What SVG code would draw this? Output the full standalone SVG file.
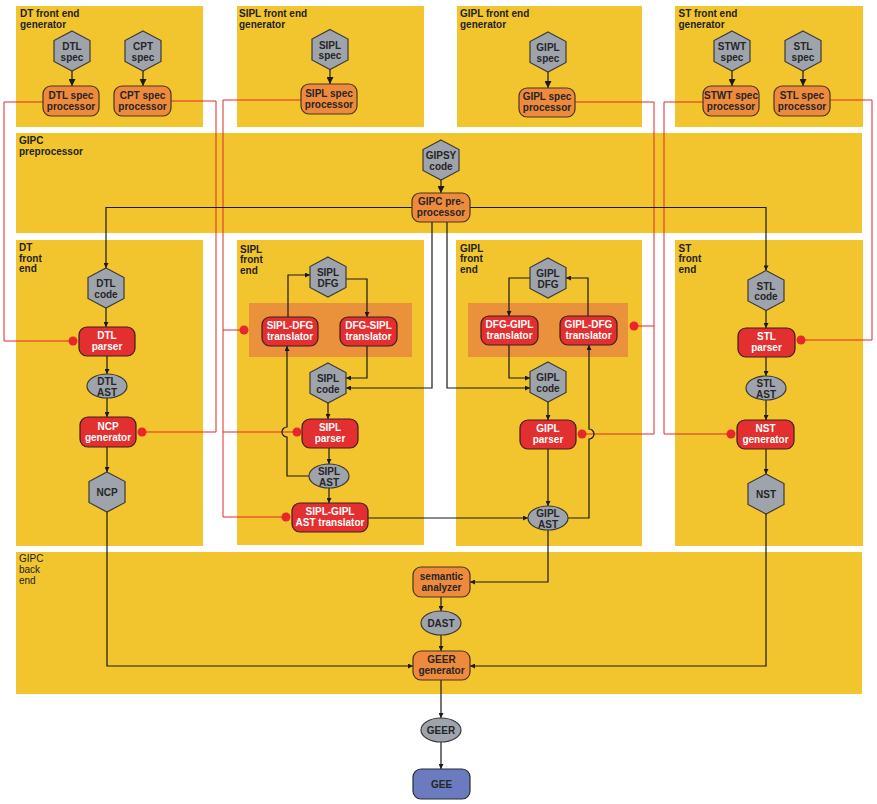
<svg xmlns="http://www.w3.org/2000/svg" width="877" height="804" viewBox="0 0 877 804">
<style>
.panel{fill:#F2C42D}
.grp{fill:#EA913B}
.lbl{font-family:"Liberation Sans",Arial,sans-serif;font-size:10px;font-weight:bold;fill:#231f20}
.lbln{font-family:"Liberation Sans",Arial,sans-serif;font-size:10px;fill:#231f20}
.hex{fill:#9FA3AB;stroke:#3a3a3a;stroke-width:1.2}
.ell{fill:#9FA3AB;stroke:#3a3a3a;stroke-width:1.2}
.org{fill:#EE8A3B;stroke:#4a3520;stroke-width:1.2}
.red{fill:#E32F2F;stroke:#3a2020;stroke-width:1.2}
.blu{fill:#6A7BBF;stroke:#2a2a3a;stroke-width:1.2}
.t{font-family:"Liberation Sans",Arial,sans-serif;font-size:10px;font-weight:bold;fill:#262626;text-anchor:middle}
.tw{font-family:"Liberation Sans",Arial,sans-serif;font-size:10px;font-weight:bold;fill:#ffffff;text-anchor:middle}
.bl{fill:none;stroke:#1a1a1a;stroke-width:1.2}
.rl{fill:none;stroke:#E02B2B;stroke-width:1}
.dot{fill:#E8262B}
</style>
<defs>
<marker id="ah" viewBox="0 0 10 10" refX="10" refY="5" markerWidth="6" markerHeight="5" orient="auto" markerUnits="userSpaceOnUse"><path d="M0,0 L10,5 L0,10 z" fill="#1a1a1a"/></marker>
<marker id="ahL" viewBox="0 0 10 10" refX="10" refY="5" markerWidth="8" markerHeight="7" orient="auto" markerUnits="userSpaceOnUse"><path d="M0,0 L10,5 L0,10 z" fill="#1a1a1a"/></marker>
<polygon id="hx" points="0,-20 18,-10.5 18,10.5 0,20 -18,10.5 -18,-10.5"/>
</defs>

<g id="panels">
<rect class="panel" x="16" y="6" width="187" height="121"/>
<rect class="panel" x="237" y="6" width="187" height="121"/>
<rect class="panel" x="457" y="6" width="185" height="121"/>
<rect class="panel" x="675" y="6" width="188" height="121"/>
<rect class="panel" x="16" y="133" width="846" height="100"/>
<rect class="panel" x="16" y="240" width="187" height="306"/>
<rect class="panel" x="237" y="240" width="187" height="305"/>
<rect class="panel" x="456" y="240" width="186" height="306"/>
<rect class="panel" x="675" y="240" width="188" height="306"/>
<rect class="panel" x="16" y="552" width="846" height="142"/>
<rect class="grp" x="249" y="303" width="163" height="54"/>
<rect class="grp" x="468" y="303" width="160" height="54"/>
<text class="lbl" x="20" y="16.5">DT front end</text>
<text class="lbl" x="20" y="27.5">generator</text>
<text class="lbl" x="239" y="16.5">SIPL front end</text>
<text class="lbl" x="239" y="27.5">generator</text>
<text class="lbl" x="460" y="16.5">GIPL front end</text>
<text class="lbl" x="460" y="27.5">generator</text>
<text class="lbl" x="678.5" y="16.5">ST front end</text>
<text class="lbl" x="678.5" y="27.5">generator</text>
<text class="lbl" x="19" y="143.5">GIPC</text>
<text class="lbl" x="19" y="154.5">preprocessor</text>
<text class="lbl" x="19" y="251">DT</text>
<text class="lbl" x="19" y="261.5">front</text>
<text class="lbl" x="19" y="272">end</text>
<text class="lbl" x="240" y="252.5">SIPL</text>
<text class="lbl" x="240" y="263">front</text>
<text class="lbl" x="240" y="273.5">end</text>
<text class="lbl" x="460" y="251.5">GIPL</text>
<text class="lbl" x="460" y="262">front</text>
<text class="lbl" x="460" y="272.5">end</text>
<text class="lbl" x="678.5" y="251.5">ST</text>
<text class="lbl" x="678.5" y="262">front</text>
<text class="lbl" x="678.5" y="272.5">end</text>
<text class="lbln" x="19" y="562.3">GIPC</text>
<text class="lbln" x="19" y="573.3">back</text>
<text class="lbln" x="19" y="584.3">end</text>
</g>

<g id="connectors">
<!-- red control lines -->
<path class="rl" d="M43,102 H4 V341 H73"/>
<path class="rl" d="M171,101 H216 V432 H142"/>
<path class="rl" d="M301,100 H223 V517 H286 M223,330 H244 M223,432 H297"/>
<path class="rl" d="M575,102 H654 V434 H582 M654,326 H634"/>
<path class="rl" d="M703,102 H664 V434 H731"/>
<path class="rl" d="M830,100 H872 V340 H801"/>
<circle class="dot" cx="73" cy="341" r="4.5"/>
<circle class="dot" cx="142" cy="432" r="4.5"/>
<circle class="dot" cx="244" cy="330" r="4.5"/>
<circle class="dot" cx="297" cy="432" r="4.5"/>
<circle class="dot" cx="286" cy="517" r="4.5"/>
<circle class="dot" cx="634" cy="326" r="4.5"/>
<circle class="dot" cx="582" cy="434" r="4.5"/>
<circle class="dot" cx="731" cy="434" r="4.5"/>
<circle class="dot" cx="801" cy="340" r="4.5"/>
<!-- spec to processor -->
<path class="bl" d="M72,71 V86" marker-end="url(#ahL)"/>
<path class="bl" d="M143,71 V86" marker-end="url(#ahL)"/>
<path class="bl" d="M330,69.5 V84" marker-end="url(#ahL)"/>
<path class="bl" d="M548,72 V88" marker-end="url(#ahL)"/>
<path class="bl" d="M732,71 V86" marker-end="url(#ahL)"/>
<path class="bl" d="M803,71 V86" marker-end="url(#ahL)"/>
<path class="bl" d="M441,180 V193" marker-end="url(#ahL)"/>
<!-- preprocessor outputs -->
<path class="bl" d="M412,207.5 H106 V268" marker-end="url(#ah)"/>
<path class="bl" d="M470,207.5 H766 V270.5" marker-end="url(#ah)"/>
<path class="bl" d="M432,222 V388 H346" marker-end="url(#ah)"/>
<path class="bl" d="M447,222 V388 H530" marker-end="url(#ah)"/>
<!-- DT front end -->
<path class="bl" d="M106,308 V327" marker-end="url(#ah)"/>
<path class="bl" d="M107,356 V374" marker-end="url(#ah)"/>
<path class="bl" d="M107,398 V417" marker-end="url(#ah)"/>
<path class="bl" d="M107,447 V472" marker-end="url(#ah)"/>
<path class="bl" d="M107,512 V666 H413" marker-end="url(#ah)"/>
<!-- SIPL front end -->
<path class="bl" d="M288,317 V275 H310" marker-end="url(#ah)"/>
<path class="bl" d="M346,279 H367 V317" marker-end="url(#ah)"/>
<path class="bl" d="M367,346 V378 H346" marker-end="url(#ah)"/>
<path class="bl" d="M328,403 V419" marker-end="url(#ah)"/>
<path class="bl" d="M329,448 V464" marker-end="url(#ah)"/>
<path class="bl" d="M309,476 H287 V437 A5,5 0 0 1 287,427 V346" marker-end="url(#ah)"/>
<path class="bl" d="M329,488 V503" marker-end="url(#ah)"/>
<path class="bl" d="M368,518 H528" marker-end="url(#ah)"/>
<!-- GIPL front end -->
<path class="bl" d="M530,278 H509 V316" marker-end="url(#ah)"/>
<path class="bl" d="M588,316 V278 H566" marker-end="url(#ah)"/>
<path class="bl" d="M509,345 V378 H530" marker-end="url(#ah)"/>
<path class="bl" d="M548,402 V420" marker-end="url(#ah)"/>
<path class="bl" d="M548,449 V506" marker-end="url(#ah)"/>
<path class="bl" d="M568,518 H589 V439 A5,5 0 0 0 589,429 V345" marker-end="url(#ah)"/>
<path class="bl" d="M548,530 V582 H470" marker-end="url(#ah)"/>
<!-- ST front end -->
<path class="bl" d="M766,311 V328" marker-end="url(#ah)"/>
<path class="bl" d="M766,357 V376" marker-end="url(#ah)"/>
<path class="bl" d="M766,400 V420" marker-end="url(#ah)"/>
<path class="bl" d="M766,449 V474" marker-end="url(#ah)"/>
<path class="bl" d="M766,514 V666 H470" marker-end="url(#ah)"/>
<!-- back end -->
<path class="bl" d="M441,597 V611" marker-end="url(#ah)"/>
<path class="bl" d="M441,635 V651" marker-end="url(#ah)"/>
<path class="bl" d="M441,680 V718" marker-end="url(#ah)"/>
<path class="bl" d="M441,742 V769" marker-end="url(#ah)"/>
</g>

<!-- top row -->
<g id="dtl-spec"><use href="#hx" class="hex" transform="translate(72,51)"/><text class="t" x="72" y="50">DTL</text><text class="t" x="72" y="60.5">spec</text></g>
<g id="cpt-spec"><use href="#hx" class="hex" transform="translate(143,51)"/><text class="t" x="143" y="50">CPT</text><text class="t" x="143" y="60.5">spec</text></g>
<g id="dtl-spec-processor"><rect class="org" x="43" y="86" width="56" height="30" rx="8"/><text class="t" x="71" y="98.5">DTL spec</text><text class="t" x="71" y="109.5">processor</text></g>
<g id="cpt-spec-processor"><rect class="org" x="114" y="86" width="57" height="30" rx="8"/><text class="t" x="142.5" y="98.5">CPT spec</text><text class="t" x="142.5" y="109.5">processor</text></g>
<g id="sipl-spec"><use href="#hx" class="hex" transform="translate(330,49.5)"/><text class="t" x="330" y="48.5">SIPL</text><text class="t" x="330" y="59">spec</text></g>
<g id="sipl-spec-processor"><rect class="org" x="301" y="84" width="56" height="30" rx="8"/><text class="t" x="329" y="96.5">SIPL spec</text><text class="t" x="329" y="107.5">processor</text></g>
<g id="gipl-spec"><use href="#hx" class="hex" transform="translate(548,52)"/><text class="t" x="548" y="51">GIPL</text><text class="t" x="548" y="61.5">spec</text></g>
<g id="gipl-spec-processor"><rect class="org" x="519" y="88" width="56" height="29" rx="8"/><text class="t" x="547" y="100">GIPL spec</text><text class="t" x="547" y="111">processor</text></g>
<g id="stwt-spec"><use href="#hx" class="hex" transform="translate(732,51)"/><text class="t" x="732" y="50">STWT</text><text class="t" x="732" y="60.5">spec</text></g>
<g id="stl-spec"><use href="#hx" class="hex" transform="translate(803,51)"/><text class="t" x="803" y="50">STL</text><text class="t" x="803" y="60.5">spec</text></g>
<g id="stwt-spec-processor"><rect class="org" x="703" y="86" width="56" height="30" rx="8"/><text class="t" x="731" y="98.5">STWT spec</text><text class="t" x="731" y="109.5">processor</text></g>
<g id="stl-spec-processor"><rect class="org" x="774" y="86" width="56" height="30" rx="8"/><text class="t" x="802" y="98.5">STL spec</text><text class="t" x="802" y="109.5">processor</text></g>

<!-- preprocessor -->
<g id="gipsy-code"><use href="#hx" class="hex" transform="translate(441,160)"/><text class="t" x="441" y="159">GIPSY</text><text class="t" x="441" y="169.5">code</text></g>
<g id="gipc-preprocessor"><rect class="org" x="412" y="193" width="58" height="29" rx="8"/><text class="t" x="441" y="205">GIPC pre-</text><text class="t" x="441" y="216">processor</text></g>

<!-- DT front end -->
<g id="dtl-code"><use href="#hx" class="hex" transform="translate(106,288)"/><text class="t" x="106" y="287">DTL</text><text class="t" x="106" y="297.5">code</text></g>
<g id="dtl-parser"><rect class="red" x="79" y="327" width="56" height="29" rx="8"/><text class="tw" x="107" y="339">DTL</text><text class="tw" x="107" y="350">parser</text></g>
<g id="dtl-ast"><ellipse class="ell" cx="107" cy="386" rx="20" ry="12"/><text class="t" x="107" y="385">DTL</text><text class="t" x="107" y="395.5">AST</text></g>
<g id="ncp-generator"><rect class="red" x="80" y="417" width="56" height="30" rx="8"/><text class="tw" x="108" y="429.5">NCP</text><text class="tw" x="108" y="440.5">generator</text></g>
<g id="ncp"><use href="#hx" class="hex" transform="translate(107,492)"/><text class="t" x="107" y="495.5">NCP</text></g>

<!-- SIPL front end -->
<g id="sipl-dfg"><use href="#hx" class="hex" transform="translate(328,277)"/><text class="t" x="328" y="276">SIPL</text><text class="t" x="328" y="286.5">DFG</text></g>
<g id="sipl-dfg-translator"><rect class="red" x="262" y="317" width="56" height="29" rx="8"/><text class="tw" x="290" y="329">SIPL-DFG</text><text class="tw" x="290" y="340">translator</text></g>
<g id="dfg-sipl-translator"><rect class="red" x="340" y="317" width="57" height="29" rx="8"/><text class="tw" x="368.5" y="329">DFG-SIPL</text><text class="tw" x="368.5" y="340">translator</text></g>
<g id="sipl-code"><use href="#hx" class="hex" transform="translate(328,383)"/><text class="t" x="328" y="382">SIPL</text><text class="t" x="328" y="392.5">code</text></g>
<g id="sipl-parser"><rect class="red" x="302" y="419" width="56" height="29" rx="8"/><text class="tw" x="330" y="431">SIPL</text><text class="tw" x="330" y="442">parser</text></g>
<g id="sipl-ast"><ellipse class="ell" cx="329" cy="476" rx="20" ry="12"/><text class="t" x="329" y="475">SIPL</text><text class="t" x="329" y="485.5">AST</text></g>
<g id="sipl-gipl-ast-translator"><rect class="red" x="292" y="503" width="76" height="29" rx="8"/><text class="tw" x="330" y="515">SIPL-GIPL</text><text class="tw" x="330" y="526">AST translator</text></g>

<!-- GIPL front end -->
<g id="gipl-dfg"><use href="#hx" class="hex" transform="translate(548,278)"/><text class="t" x="548" y="277">GIPL</text><text class="t" x="548" y="287.5">DFG</text></g>
<g id="dfg-gipl-translator"><rect class="red" x="481" y="316" width="57" height="29" rx="8"/><text class="tw" x="509.5" y="328">DFG-GIPL</text><text class="tw" x="509.5" y="339">translator</text></g>
<g id="gipl-dfg-translator"><rect class="red" x="560" y="316" width="57" height="29" rx="8"/><text class="tw" x="588.5" y="328">GIPL-DFG</text><text class="tw" x="588.5" y="339">translator</text></g>
<g id="gipl-code"><use href="#hx" class="hex" transform="translate(548,382)"/><text class="t" x="548" y="381">GIPL</text><text class="t" x="548" y="391.5">code</text></g>
<g id="gipl-parser"><rect class="red" x="520" y="420" width="56" height="29" rx="8"/><text class="tw" x="548" y="432">GIPL</text><text class="tw" x="548" y="443">parser</text></g>
<g id="gipl-ast"><ellipse class="ell" cx="548" cy="518" rx="20" ry="12"/><text class="t" x="548" y="517">GIPL</text><text class="t" x="548" y="527.5">AST</text></g>

<!-- ST front end -->
<g id="stl-code"><use href="#hx" class="hex" transform="translate(766,290.5)"/><text class="t" x="766" y="289.5">STL</text><text class="t" x="766" y="300">code</text></g>
<g id="stl-parser"><rect class="red" x="738" y="328" width="57" height="29" rx="8"/><text class="tw" x="766.5" y="340">STL</text><text class="tw" x="766.5" y="351">parser</text></g>
<g id="stl-ast"><ellipse class="ell" cx="766" cy="388" rx="20" ry="12"/><text class="t" x="766" y="387">STL</text><text class="t" x="766" y="397.5">AST</text></g>
<g id="nst-generator"><rect class="red" x="737" y="420" width="57" height="29" rx="8"/><text class="tw" x="765.5" y="432">NST</text><text class="tw" x="765.5" y="443">generator</text></g>
<g id="nst"><use href="#hx" class="hex" transform="translate(766,494)"/><text class="t" x="766" y="497.5">NST</text></g>

<!-- back end -->
<g id="semantic-analyzer"><rect class="org" x="413" y="567" width="57" height="30" rx="8"/><text class="t" x="441.5" y="579.5">semantic</text><text class="t" x="441.5" y="590.5">analyzer</text></g>
<g id="dast"><ellipse class="ell" cx="441" cy="623" rx="20" ry="12"/><text class="t" x="441" y="626.5">DAST</text></g>
<g id="geer-generator"><rect class="org" x="413" y="651" width="57" height="29" rx="8"/><text class="t" x="441.5" y="663">GEER</text><text class="t" x="441.5" y="674">generator</text></g>
<g id="geer"><ellipse class="ell" cx="441" cy="730" rx="20" ry="12"/><text class="t" x="441" y="733.5">GEER</text></g>
<g id="gee"><rect class="blu" x="413" y="769" width="57" height="30" rx="8"/><text class="t" x="441.5" y="787.5">GEE</text></g>
</svg>
